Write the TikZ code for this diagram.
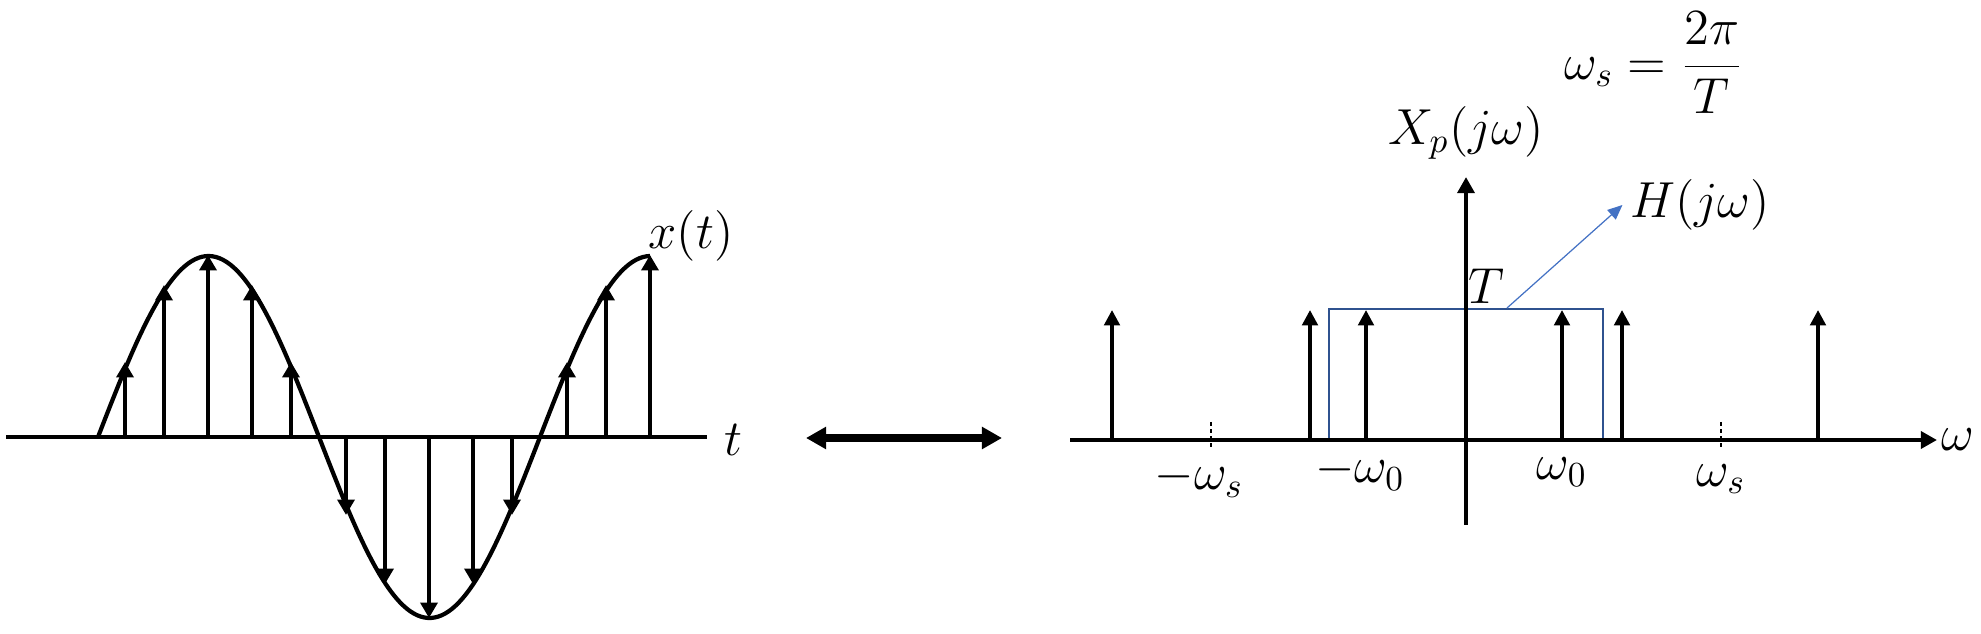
\documentclass[tikz,border=0pt]{standalone}
\usetikzlibrary{arrows.meta}
\definecolor{rectblue}{RGB}{47,82,143}
\definecolor{arrblue}{RGB}{68,114,196}
\begin{document}
\begin{tikzpicture}[x=0.01cm,y=-0.01cm,
  lbl/.style={font=\fontsize{14}{16}\selectfont, inner sep=1pt},
  axisline/.style={line width=1.15pt},
  samp/.style={line width=1.1pt,-{Triangle[width=4.8pt,length=4.4pt]}},
  imp/.style={line width=1.05pt,-{Triangle[width=4.4pt,length=4.4pt]}},
  tick/.style={line width=0.5pt, dash pattern=on 1.2pt off 0.8pt},
  bigarrow/.style={line width=2pt,{Triangle[width=6pt,length=5.7pt]}-{Triangle[width=6pt,length=5.7pt]}},
  filterbox/.style={draw=rectblue, line width=0.6pt},
  pointer/.style={draw=arrblue, line width=0.35pt, -{Triangle[width=3.6pt,length=4.2pt]}}]
\useasboundingbox (0,0) rectangle (1981,634);

% ---------- left: sampled sinusoid ----------
\coordinate (tl) at (6,437);
\coordinate (tr) at (707,437);
\draw[axisline] (tl) -- (tr);
\node[lbl] (tlab) at (733,440) {$t$};
\draw[line width=1.2pt, domain=98:650, samples=160, smooth]
  plot (\x,{437-181*sin((\x-98)/442*360)});
\node[lbl] (xlab) at (691,236) {$x(t)$};
\foreach \x/\h in {125/-75,164/-152,208/-182,252/-152,291/-75,
                   346/78,385/147,429/181,473/147,512/78,
                   567/-75,606/-152,650/-182}
  \draw[samp] (\x,437) -- ++(0,\h);

% ---------- middle double arrow ----------
\coordinate (ml) at (806,438);
\coordinate (mr) at (1002,438);
\draw[bigarrow] (ml) -- (mr);

% ---------- right: spectrum ----------
\coordinate (wl) at (1070,440);
\coordinate (wr) at (1937,440);
\coordinate (vb) at (1466,525);
\coordinate (vt) at (1466,177);
\draw[filterbox] (1329,309) rectangle (1603,440);
\draw[axisline,-{Triangle[width=4.8pt,length=4.6pt]}] (wl) -- (wr);
\draw[axisline,-{Triangle[width=4.8pt,length=4.6pt]}] (vb) -- (vt);
\node[lbl] (wlab) at (1958,440) {$\omega$};
\node[lbl] (Xlab) at (1466,133) {$X_p(j\omega)$};
\foreach \x in {1112,1310,1366,1562,1622,1818}
  \draw[imp] (\x,440) -- (\x,310);
\draw[tick] (1211,422) -- (1211,450);
\draw[tick] (1721,422) -- (1721,450);
\node[lbl] (mws) at (1199,479) {$-\omega_s$};
\node[lbl] (mw0) at (1360,472) {$-\omega_0$};
\node[lbl] (pw0) at (1562,472) {$\omega_0$};
\node[lbl] (pws) at (1721,479) {$\omega_s$};
\node[lbl] (Tlab) at (1486,286) {$T$};
\node[lbl,inner sep=2pt] (H) at (1700,205) {$H(j\omega)$};
\coordinate (hs) at (1507,308);
\draw[pointer] (hs) -- (H.west);
\node[lbl] (wsdef) at (1654,63) {$\omega_s=\displaystyle\frac{2\pi}{T}$};
\end{tikzpicture}
\end{document}
